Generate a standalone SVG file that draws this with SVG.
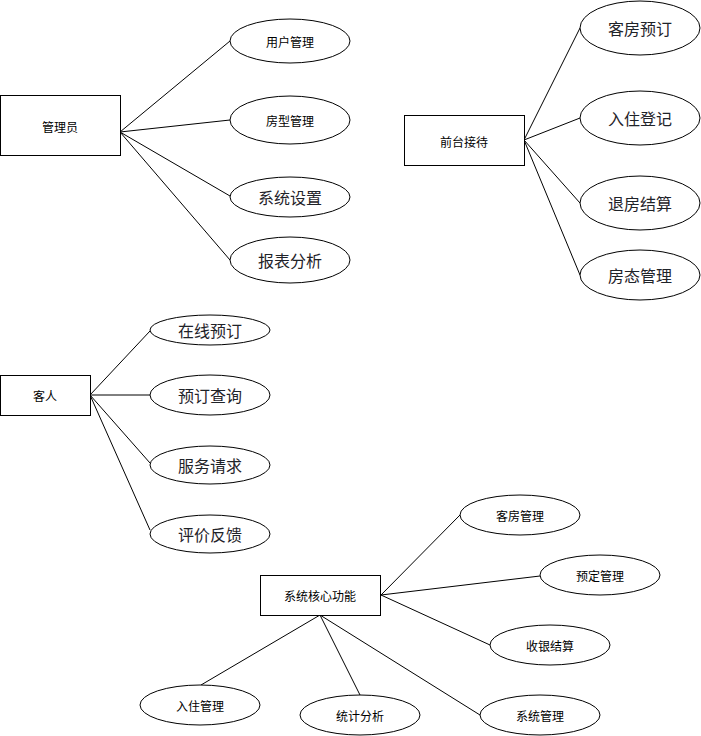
<svg xmlns="http://www.w3.org/2000/svg" width="701" height="736" viewBox="0 0 701 736">
<style>
.box{fill:#fff;stroke:#000;stroke-width:1}
.ell{fill:#fff;stroke:#000;stroke-width:1}
.ln{stroke:#000;stroke-width:1;fill:none}
.s{font-family:"Noto Sans CJK SC","Noto Sans",sans-serif;font-size:12px;fill:#000;text-anchor:middle;dominant-baseline:central}
.l{font-family:"Noto Sans CJK SC","Noto Sans",sans-serif;font-size:16px;fill:#1f2329;text-anchor:middle;dominant-baseline:central}
</style>
<rect width="701" height="736" fill="#fff"/>
<g id="connectors">
<line class="ln" x1="120" y1="132" x2="230" y2="41"/>
<line class="ln" x1="120" y1="132" x2="230" y2="120"/>
<line class="ln" x1="120" y1="132" x2="230" y2="196"/>
<line class="ln" x1="120" y1="132" x2="230" y2="260"/>
<line class="ln" x1="524" y1="140" x2="580" y2="28"/>
<line class="ln" x1="524" y1="140" x2="580" y2="118"/>
<line class="ln" x1="524" y1="140" x2="580" y2="203"/>
<line class="ln" x1="524" y1="140" x2="580" y2="275"/>
<line class="ln" x1="90" y1="395" x2="150" y2="331"/>
<line class="ln" x1="90" y1="395" x2="150" y2="395"/>
<line class="ln" x1="90" y1="395" x2="150" y2="463"/>
<line class="ln" x1="90" y1="395" x2="150" y2="530"/>
<line class="ln" x1="381" y1="595" x2="460" y2="515"/>
<line class="ln" x1="381" y1="595" x2="540" y2="576"/>
<line class="ln" x1="381" y1="595" x2="490" y2="645"/>
<line class="ln" x1="320" y1="615" x2="201" y2="685"/>
<line class="ln" x1="320" y1="615" x2="360" y2="695"/>
<line class="ln" x1="320" y1="615" x2="480" y2="715"/>
</g>
<g id="admin"><rect class="box" x="0.5" y="95.5" width="120" height="60"/><text class="s" x="60" y="126">管理员</text></g>
<g id="user-mgmt"><ellipse class="ell" cx="290" cy="41" rx="60" ry="22"/><text class="s" x="290" y="41">用户管理</text></g>
<g id="roomtype-mgmt"><ellipse class="ell" cx="290" cy="120" rx="60" ry="24"/><text class="s" x="290" y="120">房型管理</text></g>
<g id="sys-settings"><ellipse class="ell" cx="290" cy="197" rx="60" ry="20"/><text class="l" x="290" y="197">系统设置</text></g>
<g id="report"><ellipse class="ell" cx="290" cy="260" rx="60" ry="23"/><text class="l" x="290" y="260">报表分析</text></g>

<g id="frontdesk"><rect class="box" x="404.5" y="115.5" width="120" height="50"/><text class="s" x="464" y="141">前台接待</text></g>
<g id="room-booking"><ellipse class="ell" cx="640" cy="28" rx="60" ry="27"/><text class="l" x="640" y="28">客房预订</text></g>
<g id="checkin-reg"><ellipse class="ell" cx="640" cy="118" rx="60" ry="27"/><text class="l" x="640" y="118">入住登记</text></g>
<g id="checkout"><ellipse class="ell" cx="640" cy="203" rx="60" ry="27"/><text class="l" x="640" y="203">退房结算</text></g>
<g id="roomstatus"><ellipse class="ell" cx="640" cy="275" rx="60" ry="25"/><text class="l" x="640" y="275">房态管理</text></g>

<g id="guest"><rect class="box" x="0.5" y="375.5" width="90" height="40"/><text class="s" x="45" y="395">客人</text></g>
<g id="online-booking"><ellipse class="ell" cx="210" cy="330" rx="60" ry="15"/><text class="l" x="210" y="330">在线预订</text></g>
<g id="booking-query"><ellipse class="ell" cx="210" cy="395" rx="60" ry="20"/><text class="l" x="210" y="395">预订查询</text></g>
<g id="service-req"><ellipse class="ell" cx="210" cy="465" rx="60" ry="19"/><text class="l" x="210" y="465">服务请求</text></g>
<g id="feedback"><ellipse class="ell" cx="210" cy="534" rx="60" ry="19"/><text class="l" x="210" y="534">评价反馈</text></g>

<g id="core"><rect class="box" x="260.5" y="575.5" width="120" height="40"/><text class="s" x="320" y="595">系统核心功能</text></g>
<g id="room-mgmt"><ellipse class="ell" cx="520" cy="515" rx="60" ry="20"/><text class="s" x="520" y="515">客房管理</text></g>
<g id="booking-mgmt"><ellipse class="ell" cx="600" cy="575" rx="60" ry="20"/><text class="s" x="600" y="575">预定管理</text></g>
<g id="cashier"><ellipse class="ell" cx="550" cy="645" rx="60" ry="20"/><text class="s" x="550" y="645">收银结算</text></g>
<g id="checkin-mgmt"><ellipse class="ell" cx="200" cy="705" rx="60" ry="20"/><text class="s" x="200" y="705">入住管理</text></g>
<g id="stats"><ellipse class="ell" cx="360" cy="715" rx="60" ry="20"/><text class="s" x="360" y="715">统计分析</text></g>
<g id="sys-mgmt"><ellipse class="ell" cx="540" cy="715" rx="60" ry="20"/><text class="s" x="540" y="715">系统管理</text></g>
</svg>
